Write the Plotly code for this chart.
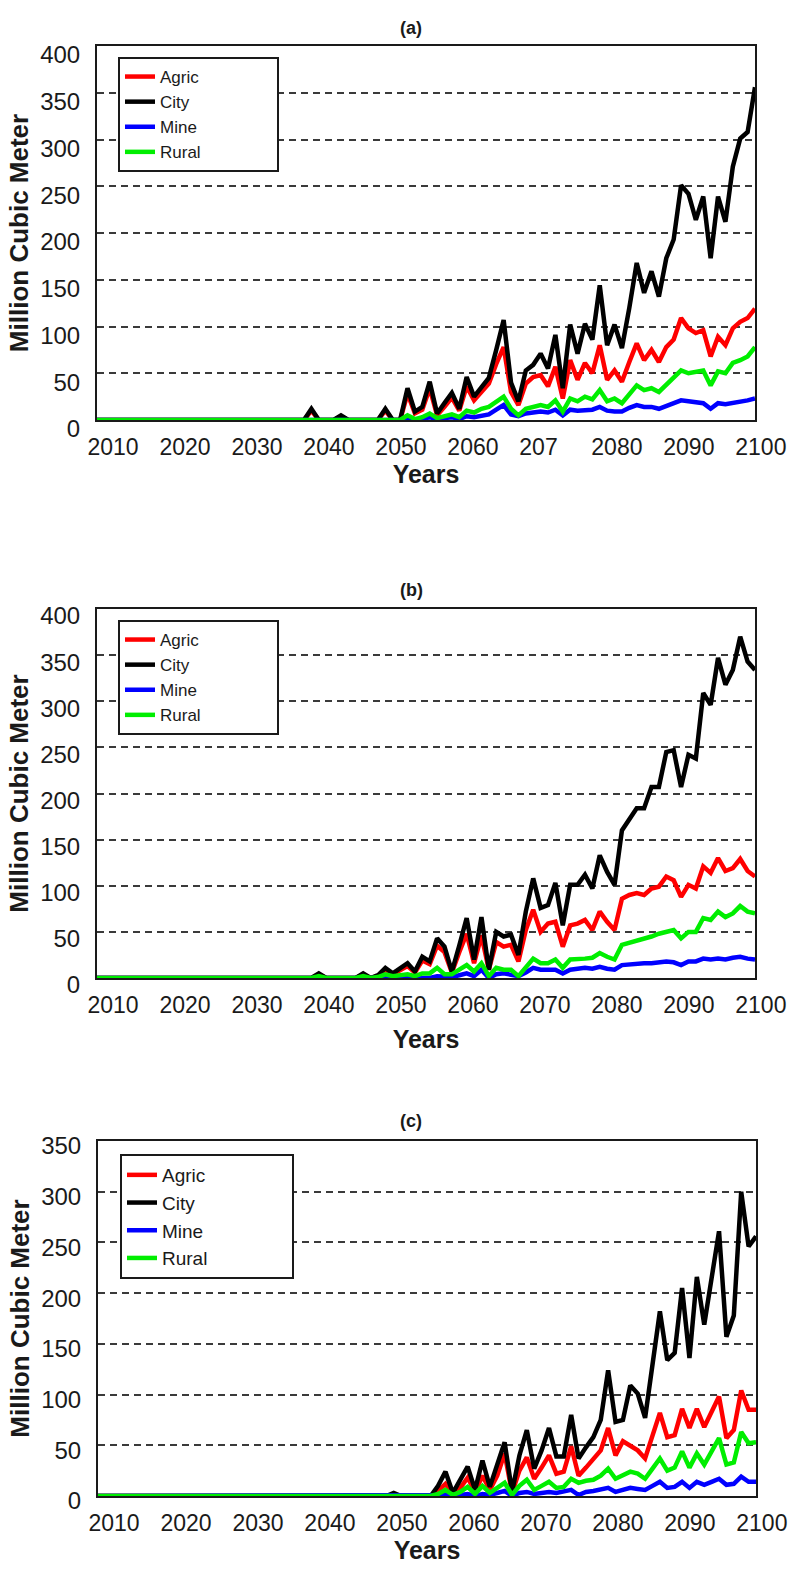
import plotly.graph_objects as go

# ---------------------------------------------------------------------------
# Data: annual water demand (million cubic metres), 2010-2099
# ---------------------------------------------------------------------------
YEARS = list(range(2010, 2100))
SERIES = ["Agric", "City", "Mine", "Rural"]

# Panel (a)
A_AGRIC = [
    0, 0, 0, 0, 0, 0, 0, 0, 0, 0,
    0, 0, 0, 0, 0, 0, 0, 0, 0, 0,
    0, 0, 0, 0, 0, 0, 0, 0, 0, 10,
    0, 0, 0, 4, 0, 0, 0, 0, 0, 10,
    0, 0, 28, 7, 11, 34, 5, 14, 24, 10,
    36, 21, 30, 39, 60, 78, 30, 16, 39, 46,
    48, 36, 57, 23, 64, 43, 61, 50, 80, 43,
    53, 41, 62, 82, 64, 75, 62, 78, 86, 109,
    98, 93, 96, 68, 89, 80, 98, 105, 109, 119,
]
A_CITY = [
    0, 0, 0, 0, 0, 0, 0, 0, 0, 0,
    0, 0, 0, 0, 0, 0, 0, 0, 0, 0,
    0, 0, 0, 0, 0, 0, 0, 0, 0, 12,
    0, 0, 0, 5, 0, 0, 0, 0, 0, 12,
    0, 0, 34, 9, 14, 41, 7, 18, 29, 12,
    46, 25, 35, 45, 75, 107, 40, 20, 53, 59,
    71, 55, 91, 34, 102, 71, 103, 86, 144, 80,
    102, 77, 120, 168, 136, 159, 132, 173, 193, 251,
    242, 214, 239, 173, 239, 212, 271, 301, 308, 356,
]
A_MINE = [
    0, 0, 0, 0, 0, 0, 0, 0, 0, 0,
    0, 0, 0, 0, 0, 0, 0, 0, 0, 0,
    0, 0, 0, 0, 0, 0, 0, 0, 0, 0,
    0, 0, 0, 0, 0, 0, 0, 0, 0, 0,
    0, 0, 2, 0, 1, 3, 1, 2, 3, 1,
    4, 3, 5, 6, 11, 16, 6, 4, 7, 8,
    9, 8, 11, 5, 11, 10, 11, 11, 14, 10,
    9, 9, 13, 16, 14, 14, 12, 15, 18, 21,
    20, 19, 18, 12, 18, 17, 18, 20, 21, 23,
]
A_RURAL = [
    0, 0, 0, 0, 0, 0, 0, 0, 0, 0,
    0, 0, 0, 0, 0, 0, 0, 0, 0, 0,
    0, 0, 0, 0, 0, 0, 0, 0, 0, 0,
    0, 0, 0, 0, 0, 0, 0, 0, 0, 0,
    0, 0, 5, 1, 3, 7, 2, 4, 6, 3,
    10, 8, 12, 14, 19, 25, 12, 5, 12, 14,
    16, 14, 21, 9, 23, 20, 25, 22, 32, 20,
    23, 18, 28, 37, 32, 34, 30, 38, 45, 53,
    50, 52, 53, 37, 52, 50, 61, 64, 68, 78,
]

# Panel (b)
B_AGRIC = [
    0, 0, 0, 0, 0, 0, 0, 0, 0, 0,
    0, 0, 0, 0, 0, 0, 0, 0, 0, 0,
    0, 0, 0, 0, 0, 0, 0, 0, 0, 0,
    4, 0, 0, 0, 0, 0, 4, 0, 2, 9,
    4, 8, 13, 6, 19, 15, 35, 28, 6, 28,
    48, 16, 46, 9, 39, 34, 36, 18, 52, 74,
    50, 59, 61, 34, 57, 59, 63, 52, 72, 61,
    52, 86, 90, 92, 90, 97, 99, 110, 106, 88,
    101, 97, 121, 114, 130, 116, 119, 129, 116, 110,
]
B_CITY = [
    0, 0, 0, 0, 0, 0, 0, 0, 0, 0,
    0, 0, 0, 0, 0, 0, 0, 0, 0, 0,
    0, 0, 0, 0, 0, 0, 0, 0, 0, 0,
    5, 0, 0, 0, 0, 0, 5, 0, 3, 11,
    5, 10, 16, 7, 23, 18, 43, 34, 7, 35,
    65, 20, 66, 9, 50, 45, 47, 25, 72, 108,
    76, 79, 103, 57, 101, 101, 112, 97, 133, 115,
    101, 160, 171, 184, 184, 207, 207, 245, 247, 207,
    242, 238, 309, 296, 347, 318, 334, 370, 343, 334,
]
B_MINE = [
    0, 0, 0, 0, 0, 0, 0, 0, 0, 0,
    0, 0, 0, 0, 0, 0, 0, 0, 0, 0,
    0, 0, 0, 0, 0, 0, 0, 0, 0, 0,
    0, 0, 0, 0, 0, 0, 0, 0, 0, 0,
    0, 0, 0, 0, 0, 0, 2, 1, 1, 3,
    5, 2, 9, 0, 4, 5, 4, 2, 6, 11,
    9, 9, 9, 5, 9, 10, 11, 10, 12, 10,
    9, 14, 15, 16, 16, 16, 17, 18, 17, 14,
    18, 18, 21, 20, 21, 20, 22, 23, 21, 20,
]
B_RURAL = [
    0, 0, 0, 0, 0, 0, 0, 0, 0, 0,
    0, 0, 0, 0, 0, 0, 0, 0, 0, 0,
    0, 0, 0, 0, 0, 0, 0, 0, 0, 0,
    2, 0, 0, 0, 0, 0, 2, 0, 1, 4,
    2, 3, 4, 2, 5, 5, 11, 4, 4, 9,
    14, 7, 16, 2, 11, 9, 9, 2, 12, 21,
    16, 16, 20, 11, 20, 20, 21, 22, 27, 23,
    20, 36, 38, 41, 43, 45, 48, 50, 52, 43,
    50, 50, 65, 63, 72, 66, 70, 78, 72, 70,
]

# Panel (c)
C_AGRIC = [
    0, 0, 0, 0, 0, 0, 0, 0, 0, 0,
    0, 0, 0, 0, 0, 0, 0, 0, 0, 0,
    0, 0, 0, 0, 0, 0, 0, 0, 0, 0,
    0, 0, 0, 0, 0, 0, 0, 0, 0, 0,
    0, 0, 0, 0, 0, 0, 5, 12, 2, 8,
    18, 4, 20, 6, 20, 42, 3, 25, 38, 17,
    28, 40, 22, 24, 49, 20, 28, 37, 45, 67,
    40, 54, 49, 45, 37, 60, 82, 58, 60, 86,
    67, 86, 68, 83, 98, 57, 65, 104, 85, 85,
]
C_CITY = [
    0, 0, 0, 0, 0, 0, 0, 0, 0, 0,
    0, 0, 0, 0, 0, 0, 0, 0, 0, 0,
    0, 0, 0, 0, 0, 0, 0, 0, 0, 0,
    0, 0, 0, 0, 0, 0, 0, 0, 0, 0,
    3, 0, 0, 0, 0, 0, 10, 24, 3, 15,
    29, 6, 35, 9, 30, 53, 4, 40, 65, 27,
    45, 67, 39, 39, 80, 37, 48, 58, 75, 124,
    73, 75, 109, 101, 77, 130, 182, 134, 141, 205,
    136, 216, 169, 215, 261, 157, 178, 300, 246, 256,
]
C_MINE = [
    0, 0, 0, 0, 0, 0, 0, 0, 0, 0,
    0, 0, 0, 0, 0, 0, 0, 0, 0, 0,
    0, 0, 0, 0, 0, 0, 0, 0, 0, 0,
    0, 0, 0, 0, 0, 0, 0, 0, 0, 0,
    0, 0, 0, 0, 0, 0, 0, 1, 0, 1,
    2, 0, 2, 1, 3, 5, 0, 3, 4, 2,
    3, 4, 3, 4, 6, 1, 4, 5, 6, 8,
    4, 6, 8, 7, 6, 10, 14, 8, 9, 14,
    8, 14, 11, 14, 17, 11, 12, 19, 14, 14,
]
C_RURAL = [
    0, 0, 0, 0, 0, 0, 0, 0, 0, 0,
    0, 0, 0, 0, 0, 0, 0, 0, 0, 0,
    0, 0, 0, 0, 0, 0, 0, 0, 0, 0,
    0, 0, 0, 0, 0, 0, 0, 0, 0, 0,
    0, 0, 0, 0, 0, 0, 2, 6, 1, 4,
    9, 2, 10, 3, 8, 13, 1, 10, 16, 6,
    10, 14, 8, 9, 17, 13, 15, 16, 20, 27,
    17, 20, 24, 22, 17, 27, 37, 25, 28, 44,
    28, 42, 31, 44, 57, 31, 33, 63, 52, 53,
]

# Year labels along the bottom of each panel
TICKS_A = ["2010", "2020", "2030", "2040", "2050", "2060", "207\u00a0\u00a0",
           "2080", "2090", "2100"]
TICKS_B = ["2010", "2020", "2030", "2040", "2050", "2060", "2070",
           "2080", "2090", "2100"]
TICKS_C = ["2010", "2020", "2030", "2040", "2050", "2060", "2070",
           "2080", "2090", "2100"]

# ---------------------------------------------------------------------------
# Styling
# ---------------------------------------------------------------------------
W, H = 795, 1569
FONT = "Arial, 'Liberation Sans', sans-serif"
COLORS = {"Agric": "#ff0000", "City": "#000000", "Mine": "#0000ff", "Rural": "#00ee00"}
LINE_W = 4.5
INK = "#1a1a1a"
NBSP = "\u00a0"

PANELS = [
    dict(title="(a)", data=[A_AGRIC, A_CITY, A_MINE, A_RURAL], ymax=400, ticks=TICKS_A,
         box=(97, 46, 755, 420), legend_at=(118, 57), legend_font=17, legend_pad=15,
         title_y=28, ylab_shift=9, xtitle_standoff=5),
    dict(title="(b)", data=[B_AGRIC, B_CITY, B_MINE, B_RURAL], ymax=400, ticks=TICKS_B,
         box=(97, 609, 755, 978), legend_at=(118, 620), legend_font=17, legend_pad=15,
         title_y=590, ylab_shift=7, xtitle_standoff=14),
    dict(title="(c)", data=[C_AGRIC, C_CITY, C_MINE, C_RURAL], ymax=350, ticks=TICKS_C,
         box=(98, 1141, 756, 1496), legend_at=(120, 1154), legend_font=19, legend_pad=15,
         title_y=1121, ylab_shift=5, xtitle_standoff=5),
]

# year labels sit slightly offset from the data grid; positions as fractions of axis width
LABEL_START = 0.0243
LABEL_STEP = 0.1094
LABEL_SHIFT_PX = 12

fig = go.Figure()
annotations = []
layout = dict(
    width=W, height=H, autosize=False, template="none",
    margin=dict(l=0, r=0, t=0, b=0),
    paper_bgcolor="white", plot_bgcolor="white",
    font=dict(family=FONT, color=INK),
)

for i, p in enumerate(PANELS):
    n = "" if i == 0 else str(i + 1)
    xa, ya = "x" + n, "y" + n
    leg = "legend" + n
    x0, y0, x1, y1 = p["box"]
    span = x1 - x0
    yr0, yr1 = YEARS[0], YEARS[-1]

    for name, vals in zip(SERIES, p["data"]):
        fig.add_trace(go.Scatter(
            x=YEARS, y=vals, name=name + NBSP * p["legend_pad"], mode="lines",
            line=dict(color=COLORS[name], width=LINE_W),
            xaxis=xa, yaxis=ya, legend=leg, showlegend=True,
        ))

    shift_frac = LABEL_SHIFT_PX / span
    tickvals = [yr0 + (LABEL_START + k * LABEL_STEP - shift_frac) * (yr1 - yr0)
                for k in range(len(p["ticks"]))]

    layout["xaxis" + n] = dict(
        domain=[x0 / W, x1 / W], anchor=ya, range=[yr0, yr1],
        tickmode="array", tickvals=tickvals, ticktext=p["ticks"],
        ticklabelshift=LABEL_SHIFT_PX, ticklabelstandoff=5, ticks="",
        showgrid=False, zeroline=False,
        showline=True, mirror=True, linecolor=INK, linewidth=2,
        tickfont=dict(family=FONT, size=23, color=INK),
        title=dict(text="Years", standoff=p["xtitle_standoff"],
                   font=dict(family=FONT, size=25, color=INK, weight="bold")),
        automargin=False, fixedrange=True,
    )
    layout["yaxis" + n] = dict(
        domain=[1 - y1 / H, 1 - y0 / H], anchor=xa, range=[0, p["ymax"]],
        tickmode="linear", tick0=0, dtick=50, ticks="",
        ticklabelstandoff=10, ticklabelshift=p["ylab_shift"],
        showgrid=True, gridcolor="#3a3a3a", gridwidth=2, griddash="7px,5px",
        zeroline=False,
        showline=True, mirror=True, linecolor=INK, linewidth=2,
        tickfont=dict(family=FONT, size=24, color=INK),
        title=dict(text="Million Cubic Meter", standoff=4,
                   font=dict(family=FONT, size=26, color=INK, weight="bold")),
        automargin=False, fixedrange=True,
    )
    lx, ly = p["legend_at"]
    layout[leg] = dict(
        x=lx / W, y=1 - ly / H, xanchor="left", yanchor="top",
        bgcolor="white", bordercolor=INK, borderwidth=2,
        font=dict(family=FONT, size=p["legend_font"], color=INK),
        traceorder="normal", tracegroupgap=0,
    )
    annotations.append(dict(
        text="<b>%s</b>" % p["title"], xref="paper", yref="paper",
        x=411 / W, y=1 - p["title_y"] / H, xanchor="center", yanchor="middle",
        showarrow=False, font=dict(family=FONT, size=18, color=INK),
    ))

layout["annotations"] = annotations
fig.update_layout(**layout)
fig.write_html("out.html")
